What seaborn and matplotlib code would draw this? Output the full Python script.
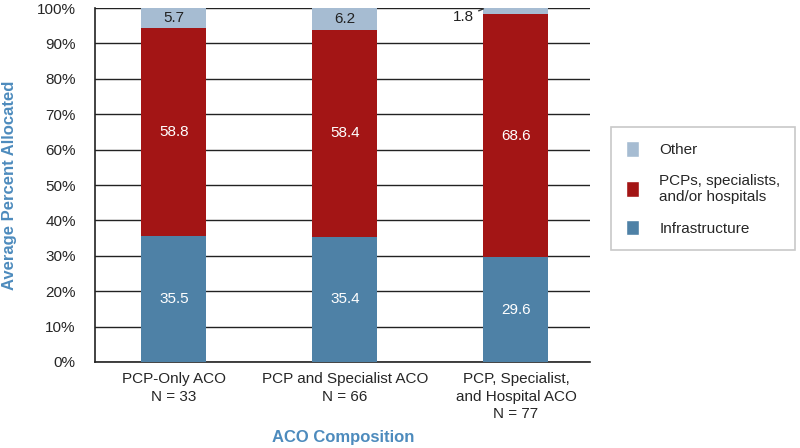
import matplotlib
matplotlib.use("Agg")
import matplotlib.pyplot as plt
from matplotlib.patches import Patch
import seaborn as sns
import pandas as pd
import numpy as np

# data
groups = ["PCP-Only ACO\nN = 33", "PCP and Specialist ACO\nN = 66",
          "PCP, Specialist,\nand Hospital ACO\nN = 77"]
infrastructure = [35.5, 35.4, 29.6]
providers = [58.8, 58.4, 68.6]
other = [5.7, 6.2, 1.8]

c_other = "#a6bcd2"
c_prov = "#a31515"
c_infra = "#4e81a6"
c_label = "#4d8bbd"

sns.set_style("white")
plt.rcParams['font.family'] = ['Liberation Sans', 'DejaVu Sans']

df = pd.DataFrame({"group": groups, "infra": infrastructure,
                   "prov": providers, "other": other})
df["top1"] = df["infra"] + df["prov"]
df["top2"] = df["top1"] + df["other"]

fig = plt.figure(figsize=(8, 4.48), dpi=100)
ax = fig.add_axes([0.119, 0.192, 0.619, 0.790])

# stacked bars drawn as overlapping cumulative totals
for col, color in [("top2", c_other), ("top1", c_prov), ("infra", c_infra)]:
    sns.barplot(data=df, x="group", y=col, color=color, width=0.38,
                saturation=1, linewidth=0, ax=ax, zorder=3)

ax.set_xlim(-0.46, 2.435)
ax.set_ylim(0, 100)
ax.set_yticks(np.arange(0, 101, 10))
ax.set_yticklabels([f"{v}%" for v in range(0, 101, 10)], fontsize=11)
ax.tick_params(axis="x", labelsize=11, length=0, pad=7)
ax.tick_params(axis="y", length=0, pad=14)
for lab in ax.get_xticklabels():
    lab.set_linespacing(1.35)
ax.yaxis.grid(True, color="#222222", linewidth=1.0, zorder=0)
ax.set_axisbelow(True)
for s in ["top", "right"]:
    ax.spines[s].set_visible(False)
for s in ["left", "bottom"]:
    ax.spines[s].set_color("#222222")
    ax.spines[s].set_linewidth(1.2)

ax.set_xlabel("ACO Composition", fontsize=12, fontweight="bold",
              color=c_label, labelpad=6)
ax.set_ylabel("Average Percent Allocated", fontsize=12, fontweight="bold",
              color=c_label, labelpad=14)

# value labels
for i, row in df.iterrows():
    ax.text(i, row["infra"] / 2, f"{row['infra']:.1f}", ha="center",
            va="center", color="white", fontsize=11, zorder=5)
    ax.text(i, row["infra"] + row["prov"] / 2, f"{row['prov']:.1f}",
            ha="center", va="center", color="white", fontsize=11, zorder=5)
    if row["other"] > 3:
        ax.text(i, row["top1"] + row["other"] / 2, f"{row['other']:.1f}",
                ha="center", va="center", color="#222222", fontsize=11, zorder=5)
    else:
        ax.annotate(f"{row['other']:.1f}", xy=(i - 0.19, 99.8),
                    xytext=(i - 0.245, 97.4), ha="right", va="center",
                    fontsize=11, color="#222222", zorder=5,
                    arrowprops=dict(arrowstyle="-", color="#333333", lw=1.0,
                                    shrinkA=1, shrinkB=0))

handles = [Patch(facecolor=c_other, label="Other"),
           Patch(facecolor=c_prov, label="PCPs, specialists,\nand/or hospitals"),
           Patch(facecolor=c_infra, label="Infrastructure")]
leg = fig.legend(handles=handles, loc="center left",
                 bbox_to_anchor=(0.764, 0.579), frameon=True, fancybox=False,
                 fontsize=11, handlelength=0.9, handleheight=1.2,
                 handletextpad=1.3, labelspacing=1.05, borderpad=0.95,
                 borderaxespad=0)
leg.get_frame().set_edgecolor("#bbbbbb")
leg.get_frame().set_linewidth(1.2)

fig.savefig("out.png", dpi=100, facecolor="white")
